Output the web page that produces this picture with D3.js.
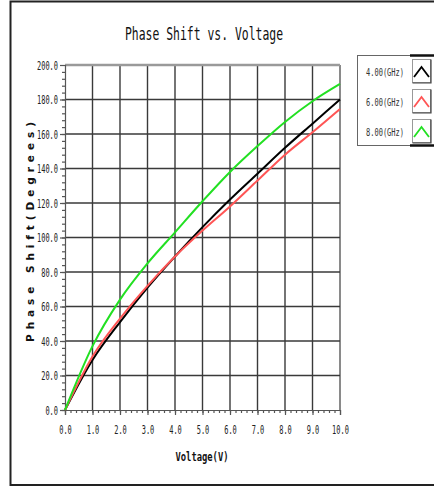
<!DOCTYPE html>
<html>
<head>
<meta charset="utf-8">
<script src="https://cdn.jsdelivr.net/npm/d3@7"></script>
<style>
  body { margin: 0; background: #fff; }
  svg { display: block; }
</style>
</head>
<body>
<svg id="main" width="434" height="487"></svg>
<script>
// values
var voltage = [0, 1, 2, 3, 4, 5, 6, 7, 8, 9, 10];
var phase4 = [0, 29, 51, 71, 89, 106, 122, 137, 152, 166, 180];
var phase6 = [0, 31, 53, 72, 89, 104, 118, 133, 148, 161, 174.5];
var phase8 = [0, 37, 64, 85, 103, 121, 138, 153, 167, 179, 189];
var seriesNames = ["4.00(GHz)", "6.00(GHz)", "8.00(GHz)"];
var seriesColors = ["#000000", "#ff5555", "#22e022"];
var xTicks = [0, 1, 2, 3, 4, 5, 6, 7, 8, 9, 10];
var yTicks = [0, 20, 40, 60, 80, 100, 120, 140, 160, 180, 200];

var svg = d3.select("#main");
var mono = "'DejaVu Sans Mono', 'Liberation Mono', monospace";

var xScale = d3.scaleLinear().domain([0, 10]).range([65, 340]),
    yScale = d3.scaleLinear().domain([0, 200]).range([410, 65]);

// outer frame
svg.append("rect")
    .attr("x", 10.5).attr("y", 1.5)
    .attr("width", 440).attr("height", 483.5)
    .attr("fill", "none").attr("stroke", "#222").attr("stroke-width", 2);

// title
svg.append("text")
    .attr("x", 204).attr("y", 40)
    .attr("text-anchor", "middle")
    .attr("font-family", mono).attr("font-size", 18)
    .attr("textLength", 158).attr("lengthAdjust", "spacingAndGlyphs")
    .attr("fill", "#111")
    .text("Phase Shift vs. Voltage");

// grid
var grid = svg.append("g").attr("class", "grid");
grid.selectAll("line.v")
    .data(xTicks.slice(1))
    .enter().append("line")
    .attr("class", "v")
    .attr("x1", function(d) { return xScale(d); })
    .attr("x2", function(d) { return xScale(d); })
    .attr("y1", yScale(0)).attr("y2", yScale(200))
    .attr("stroke", function(d) { return d == 10 ? "#8a8a8a" : "#3a3a3a"; })
    .attr("stroke-width", function(d) { return d == 10 ? 2 : 1.4; });
grid.selectAll("line.h")
    .data(yTicks.slice(1))
    .enter().append("line")
    .attr("class", "h")
    .attr("y1", function(d) { return yScale(d); })
    .attr("y2", function(d) { return yScale(d); })
    .attr("x1", xScale(0)).attr("x2", xScale(10))
    .attr("stroke", function(d) { return d == 200 ? "#9a9a9a" : "#3a3a3a"; })
    .attr("stroke-width", function(d) { return d == 200 ? 2.6 : 1.4; });

// condensed labels
function squeeze(sel, perChar) {
    sel.selectAll("text").each(function() {
        var t = d3.select(this);
        t.attr("textLength", t.text().length * perChar)
         .attr("lengthAdjust", "spacingAndGlyphs");
    });
}

// axes
var xAxis = svg.append("g")
    .attr("transform", "translate(0," + yScale(0) + ")")
    .call(d3.axisBottom(xScale).tickValues(xTicks).tickSize(5).tickPadding(10)
        .tickFormat(d3.format(".1f")));
xAxis.selectAll("text").attr("font-family", mono).attr("font-size", 12.5).attr("fill", "#222");
squeeze(xAxis, 4.2);

svg.append("g")
    .attr("transform", "translate(0," + yScale(0) + ")")
    .call(d3.axisBottom(xScale).tickValues(d3.range(0, 50).map(function(i) { return i / 5; }))
        .tickSize(3).tickFormat(""))
    .call(function(g) { g.select(".domain").remove(); });

var yAxis = svg.append("g")
    .attr("transform", "translate(" + xScale(0) + ",0)")
    .call(d3.axisLeft(yScale).tickValues(yTicks).tickSize(5).tickPadding(2)
        .tickFormat(d3.format(".1f")));
yAxis.selectAll("text").attr("font-family", mono).attr("font-size", 12.5).attr("fill", "#222");
squeeze(yAxis, 4.2);

svg.append("g")
    .attr("transform", "translate(" + xScale(0) + ",0)")
    .call(d3.axisLeft(yScale).tickValues(d3.range(0, 50).map(function(i) { return i * 4; }))
        .tickSize(3).tickFormat(""))
    .call(function(g) { g.select(".domain").remove(); });

svg.selectAll(".domain, .tick line").attr("stroke", "#555").attr("stroke-width", 1.2);

// axis titles
svg.append("text")
    .attr("x", 202).attr("y", 461)
    .attr("text-anchor", "middle")
    .attr("font-family", mono).attr("font-weight", "bold").attr("font-size", 13)
    .attr("textLength", 53).attr("lengthAdjust", "spacingAndGlyphs")
    .attr("fill", "#111")
    .text("Voltage(V)");

svg.append("text")
    .attr("transform", "translate(34,232) rotate(-90)")
    .attr("text-anchor", "middle")
    .attr("font-family", "'DejaVu Sans', sans-serif").attr("font-weight", "bold").attr("font-size", 10.5)
    .attr("textLength", 220).attr("lengthAdjust", "spacing")
    .attr("fill", "#111")
    .text("Phase  Shift(Degrees)");

// curves
var series = [phase4, phase6, phase8];
var line = d3.line()
    .x(function(d, i) { return xScale(voltage[i]); })
    .y(function(d) { return yScale(d); })
    .curve(d3.curveMonotoneX);

svg.append("g").selectAll("path")
    .data(series)
    .enter().append("path")
    .attr("d", line)
    .attr("fill", "none")
    .attr("stroke", function(d, i) { return seriesColors[i]; })
    .attr("stroke-width", 2);

// legend
var legend = svg.append("g");
legend.append("rect")
    .attr("x", 357.5).attr("y", 55.5)
    .attr("width", 90).attr("height", 90)
    .attr("fill", "#fff").attr("stroke", "#666").attr("stroke-width", 1);
legend.append("line")
    .attr("x1", 410).attr("x2", 434).attr("y1", 55.5).attr("y2", 55.5)
    .attr("stroke", "#111").attr("stroke-width", 2.5);
legend.append("line")
    .attr("x1", 410).attr("x2", 434).attr("y1", 145.5).attr("y2", 145.5)
    .attr("stroke", "#111").attr("stroke-width", 2.5);

var item = legend.selectAll("g.item")
    .data(seriesNames)
    .enter().append("g")
    .attr("class", "item")
    .attr("transform", function(d, i) { return "translate(0," + (59 + i * 30) + ")"; });

item.append("text")
    .attr("x", 404).attr("y", 17)
    .attr("text-anchor", "end")
    .attr("font-family", mono).attr("font-size", 10.5)
    .attr("textLength", 38).attr("lengthAdjust", "spacingAndGlyphs")
    .attr("fill", "#333")
    .text(function(d) { return d; });

item.append("rect")
    .attr("x", 412.5).attr("y", 0.5)
    .attr("width", 18).attr("height", 23)
    .attr("fill", "#fff").attr("stroke", "#999").attr("stroke-width", 1);
item.append("path")
    .attr("d", "M412.5,24 H431 V0.5")
    .attr("fill", "none").attr("stroke", "#444").attr("stroke-width", 1.2);
item.append("path")
    .attr("d", "M414,18 L421.5,8 L429,18")
    .attr("fill", "none")
    .attr("stroke", function(d, i) { return seriesColors[i]; })
    .attr("stroke-width", 1.8);
</script>
</body>
</html>
